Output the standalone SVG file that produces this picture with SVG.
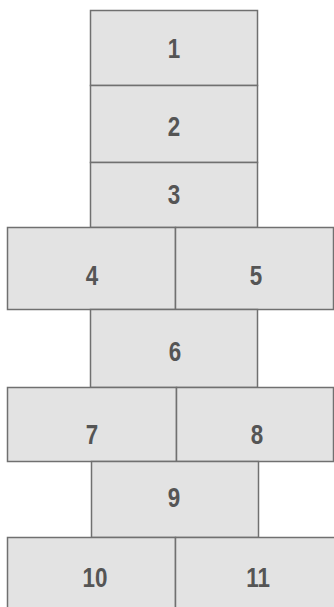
<svg xmlns="http://www.w3.org/2000/svg" width="334" height="607" viewBox="0 0 334 607">
<style>
.b{fill:#e3e3e3;stroke:#707070;stroke-width:1.5}
.t{font-family:"Liberation Sans",Arial,sans-serif;font-weight:bold;font-size:28px;fill:#555;text-anchor:middle}
</style>
<rect width="334" height="607" fill="#fff"/>
<g id="n1"><rect class="b" x="90.5" y="10.5" width="167" height="75"/><text class="t" transform="translate(174 58) scale(0.8 1)">1</text></g>
<g id="n2"><rect class="b" x="90.5" y="85.5" width="167" height="77"/><text class="t" transform="translate(174 136) scale(0.8 1)">2</text></g>
<g id="n3"><rect class="b" x="90.5" y="162.5" width="167" height="65"/><text class="t" transform="translate(174 204) scale(0.8 1)">3</text></g>
<g id="n4"><rect class="b" x="7.5" y="227.5" width="168" height="82"/><text class="t" transform="translate(92 285) scale(0.8 1)">4</text></g>
<g id="n5"><rect class="b" x="175.5" y="227.5" width="158" height="82"/><text class="t" transform="translate(256 285) scale(0.8 1)">5</text></g>
<g id="n6"><rect class="b" x="90.5" y="309.5" width="167" height="78"/><text class="t" transform="translate(175 361) scale(0.8 1)">6</text></g>
<g id="n7"><rect class="b" x="7.5" y="387.5" width="169" height="74"/><text class="t" transform="translate(92 444) scale(0.8 1)">7</text></g>
<g id="n8"><rect class="b" x="176.5" y="387.5" width="157" height="74"/><text class="t" transform="translate(257 444) scale(0.8 1)">8</text></g>
<g id="n9"><rect class="b" x="91.5" y="461.5" width="167" height="76"/><text class="t" transform="translate(174 507) scale(0.8 1)">9</text></g>
<g id="n10"><rect class="b" x="7.5" y="537.5" width="168" height="75"/><text class="t" transform="translate(95 587) scale(0.8 1)">10</text></g>
<g id="n11"><rect class="b" x="175.5" y="537.5" width="160" height="75"/><text class="t" transform="translate(258 587) scale(0.8 1)">11</text></g>
<g id="connectors"></g>
</svg>
